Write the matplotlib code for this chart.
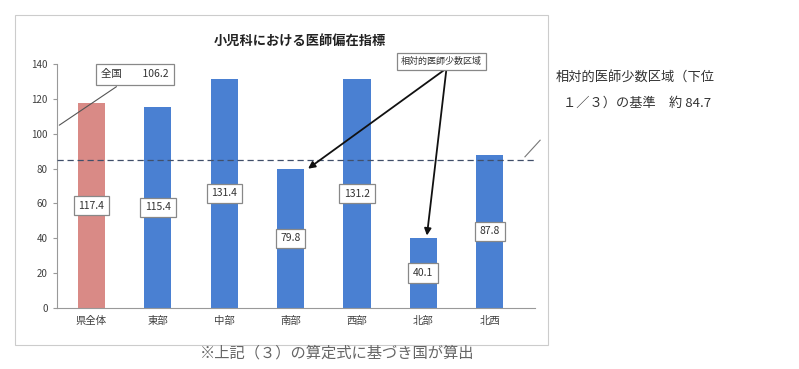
import matplotlib
matplotlib.use('Agg')
import matplotlib.pyplot as plt
from matplotlib.patches import Rectangle

plt.rcParams['font.family'] = ['Noto Sans CJK JP', 'DejaVu Sans']

# data
areas = ['県全体', '東部', '中部', '南部', '西部', '北部', '北西']
index_values = [117.4, 115.4, 131.4, 79.8, 131.2, 40.1, 87.8]
value_labels = ['117.4', '115.4', '131.4', '79.8', '131.2', '40.1', '87.8']
national_value = 106.2
threshold = 84.7
y_ticks = [0, 20, 40, 60, 80, 100, 120, 140]

fig = plt.figure(figsize=(7.99, 3.69), dpi=100)
ax = fig.add_axes([0.0713, 0.1653, 0.598, 0.6613])

colors = ['#d98a86'] + ['#4a80d2'] * (len(areas) - 1)
x = list(range(len(areas)))
ax.bar(x, index_values, width=0.41, color=colors, zorder=2)

# value labels in the middle of each bar
for xi, v, lab in zip(x, index_values, value_labels):
    ax.text(xi, v / 2, lab, ha='center', va='center', fontsize=7.5, color='#333333',
            bbox=dict(boxstyle='square,pad=0.45', fc='white', ec='#888888', lw=0.9), zorder=4)

# threshold dashed line
ax.axhline(threshold, color='#404f6a', lw=0.9, ls=(0, (5, 3)), zorder=3)

ax.set_ylim(0, 140)
ax.set_xlim(-0.52, 6.68)
ax.set_yticks(y_ticks)
ax.set_yticklabels([str(t) for t in y_ticks], fontsize=7, color='#404040')
ax.set_xticks(x)
ax.set_xticklabels(areas, fontsize=7.5, color='#404040')
ax.tick_params(axis='x', length=0, pad=6)
ax.tick_params(axis='y', length=3, color='#999999')
for s in ['top', 'right']:
    ax.spines[s].set_visible(False)
ax.spines['left'].set_color('#999999')
ax.spines['bottom'].set_color('#999999')

fig.text(0.375, 0.89, '小児科における医師偏在指標', ha='center', va='center',
         fontsize=9.5, fontweight='bold', color='#222222')

# national value box
ax.annotate('全国　　106.2', xy=(-0.52, 104), xytext=(0.65, 134),
            fontsize=7.5, ha='center', va='center', color='#333333',
            bbox=dict(boxstyle='square,pad=0.5', fc='white', ec='#888888', lw=0.9),
            arrowprops=dict(arrowstyle='-', color='#555555', lw=0.8))

# relative shortage area box with arrows
ax.text(5.27, 141.5, '相対的医師少数区域', fontsize=6.5, ha='center', va='center',
        color='#333333', zorder=5, clip_on=False,
        bbox=dict(boxstyle='square,pad=0.45', fc='white', ec='#888888', lw=0.9))
for tx, ty in [(3.23, 79.0), (5.05, 40.0)]:
    ax.annotate('', xy=(tx, ty), xytext=(5.35, 137.5), annotation_clip=False,
                arrowprops=dict(arrowstyle='-|>', color='#111111', lw=1.3, mutation_scale=10))

# right-side note about threshold
fig.text(0.695, 0.79, '相対的医師少数区域（下位', fontsize=9.5, color='#333333', va='center')
fig.text(0.705, 0.72, '１／３）の基準　約 84.7', fontsize=9.5, color='#333333', va='center')
fig.add_artist(plt.Line2D([0.676, 0.657], [0.62, 0.575], color='#777777', lw=0.8))

# caption
fig.text(0.25, 0.042, '※上記（３）の算定式に基づき国が算出', fontsize=11, color='#666666',
         va='center')

# chart border
fig.add_artist(Rectangle((0.019, 0.065), 0.667, 0.895, transform=fig.transFigure,
                         fill=False, ec='#cccccc', lw=0.8))

fig.savefig('out.png', dpi=100)
